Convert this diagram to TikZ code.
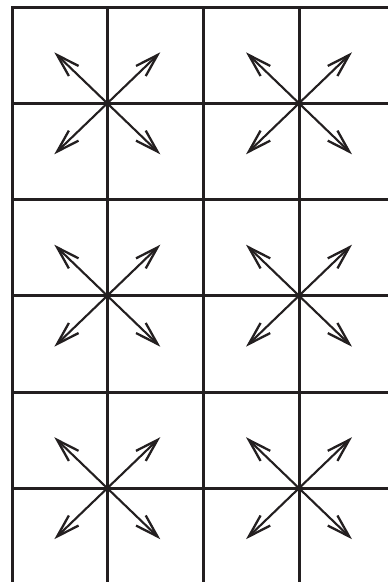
\documentclass[tikz,border=0pt]{standalone}
\usetikzlibrary{arrows.meta}
\definecolor{ink}{RGB}{35,31,32}
\begin{document}
\begin{tikzpicture}[x=1pt,y=-1pt,
  grid/.style={draw=ink,line width=3pt},
  barb/.tip={Straight Barb[length=23pt,width=14pt,line width=2.3pt]},
  spoke/.style={draw=ink,line width=2.1pt,barb-barb}]
\useasboundingbox (0,0) rectangle (388,582);
\begin{scope}
  \clip (0,0) rectangle (388,582);
  \foreach \x in {107.3,203,299} \draw[grid] (\x,7) -- (\x,600);
  \foreach \y in {103.3,199.5,295.7,392,488.2} \draw[grid] (12,\y) -- (400,\y);
  \draw[grid,line join=miter] (400,7) -- (12,7) -- (12,600);
\end{scope}
\foreach \cx/\cy [count=\i] in {107.3/103.3,299/103.3,107.3/295.7,299/295.7,107.3/488.2,299/488.2}{
  \coordinate (c\i) at (\cx,\cy);
}
\foreach \i in {1,...,6}{
  \draw[spoke] ([shift={(-53,-51)}]c\i) -- ([shift={(53,51)}]c\i);
  \draw[spoke] ([shift={(53,-51)}]c\i) -- ([shift={(-53,51)}]c\i);
}
\end{tikzpicture}
\end{document}
